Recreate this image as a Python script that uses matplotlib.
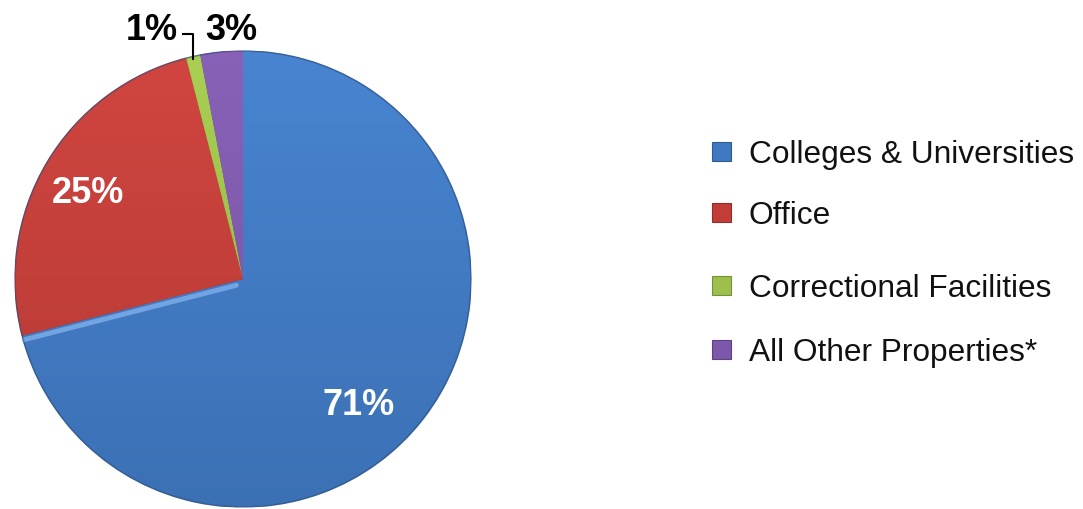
import numpy as np
import matplotlib
matplotlib.use("Agg")
import matplotlib.pyplot as plt
import matplotlib.colors as mcolors

plt.rcParams['font.family'] = ['Liberation Sans', 'DejaVu Sans']

categories = ['Colleges & Universities', 'Office', 'Correctional Facilities', 'All Other Properties*']
shares = [71, 25, 1, 3]
colors = ['#4079c2', '#c23d38', '#9cc04a', '#7d58aa']

W, H = 1083, 510
fig = plt.figure(figsize=(W / 100, H / 100), dpi=100)

# pie centred at pixel (243, 280), radius 228 px
cx, cy, R = 243, 280, 228
ax = fig.add_axes([(cx - R) / W, (H - cy - R) / H, 2 * R / W, 2 * R / H])
wedges, _ = ax.pie(shares, colors=colors, startangle=90, counterclock=False,
                   radius=1.0, wedgeprops=dict(linewidth=0.8))
ax.set_xlim(-1, 1)
ax.set_ylim(-1, 1)
ax.set_aspect('equal')
ax.axis('off')

# soft vertical gradient on every wedge
grad = np.linspace(1, 0, 256).reshape(-1, 1)
for w, c in zip(wedges, colors):
    base = np.array(mcolors.to_rgb(c))
    top = np.clip(base * 1.05 + 0.02, 0, 1)
    bot = base * 0.93
    img = top[None, None, :] * grad[:, :, None] + bot[None, None, :] * (1 - grad[:, :, None])
    im = ax.imshow(img, extent=(-1, 1, -1, 1), origin='upper', zorder=1.5,
                   interpolation='bilinear')
    im.set_clip_path(w)
    w.set_edgecolor(tuple(base * 0.8))
    w.set_zorder(1)

# light bevel along the blue/red boundary
ang = np.deg2rad(90 - shares[0] / 100 * 360)
ax.plot([0.03 * np.cos(ang), 0.99 * np.cos(ang)],
        [0.03 * np.sin(ang) - 0.02, 0.99 * np.sin(ang) - 0.02],
        color='#7fb0ec', lw=3.5, alpha=0.8, zorder=2, solid_capstyle='round')
ax.add_patch(plt.Circle((0, 0), 1.0, fill=False, ec='#2c4f80', lw=1.2, alpha=0.5, zorder=2))

labels = ['%d%%' % s for s in shares]
# inside labels
ax.text(0.505, -0.55, labels[0], color='white', fontsize=26, fontweight='bold',
        ha='center', va='center', zorder=3)
ax.text(-0.68, 0.38, labels[1], color='white', fontsize=26, fontweight='bold',
        ha='center', va='center', zorder=3)
# outside labels
ax.text(-0.40, 1.095, labels[2], color='black', fontsize=26, fontweight='bold',
        ha='center', va='center', zorder=3)
ax.text(-0.05, 1.095, labels[3], color='black', fontsize=26, fontweight='bold',
        ha='center', va='center', zorder=3)
mid = np.deg2rad(90 - (shares[0] + shares[1] + shares[2] / 2) / 100 * 360)
mx = np.cos(mid)
ax.plot([-0.265, mx, mx], [1.075, 1.075, np.sin(mid) - 0.01], color='black', lw=1.5,
        clip_on=False, zorder=3)

# legend
rows_y = [152, 213, 286, 350]
for lab, c, y in zip(categories, colors, rows_y):
    base = np.array(mcolors.to_rgb(c))
    fig.patches.append(plt.Rectangle((712 / W, (H - y - 10) / H), 19 / W, 19 / H,
                                     transform=fig.transFigure, facecolor=base,
                                     edgecolor=tuple(base * 0.75), lw=0.8))
    fig.text(749 / W, (H - y - 3) / H, lab, fontsize=22.8, va='center', ha='left', color='#111111')

fig.savefig('out.png', dpi=100)
